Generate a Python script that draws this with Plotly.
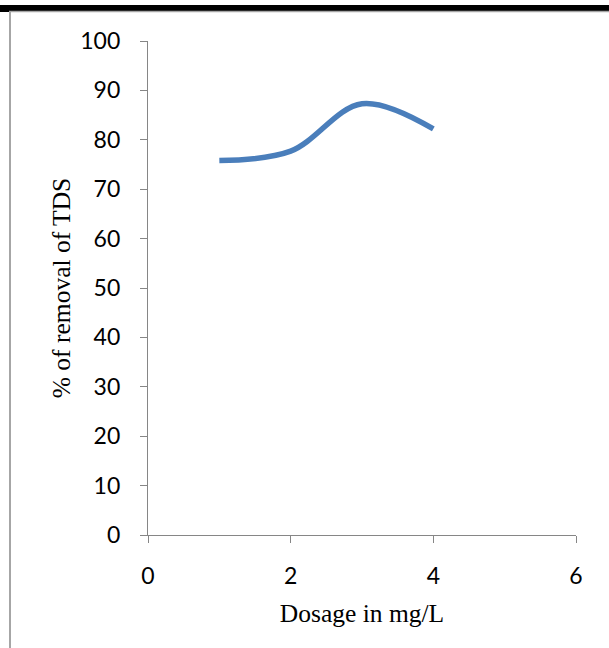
import plotly.graph_objects as go

dosage = [1, 2, 3, 4]
tds_removal = [75.8, 77.7, 87.3, 82.2]
x_ticks = [0, 2, 4, 6]
y_ticks = [0, 10, 20, 30, 40, 50, 60, 70, 80, 90, 100]

W, H = 609, 648
L, R, T, B = 148, 33, 41, 113
pw, ph = W - L - R, H - T - B

def px(x):
    return (x - L) / pw

def py(y):
    return (H - B - y) / ph

fig = go.Figure()
fig.add_trace(go.Scatter(
    x=dosage, y=tds_removal, mode="lines",
    line=dict(color="#4A7EBB", width=5.5, shape="spline", smoothing=1.0),
    showlegend=False, hoverinfo="skip",
))

axis_common = dict(
    showgrid=False, zeroline=False, showline=True, linecolor="#868686", linewidth=1.3,
    ticks="outside", ticklen=7, tickcolor="#868686", tickwidth=1.3,
    tickfont=dict(family="Lato, Carlito, sans-serif", size=23, color="#000000"),
)

fig.update_layout(
    width=W, height=H,
    margin=dict(l=L, r=R, t=T, b=B),
    paper_bgcolor="white", plot_bgcolor="white",
    xaxis=dict(range=[0, 6], tickvals=x_ticks, ticklabelstandoff=13, **axis_common,
               title=dict(text="Dosage in mg/L", standoff=16,
                          font=dict(family="Liberation Serif, Times New Roman, serif", size=25.5, color="#000"))),
    yaxis=dict(range=[0, 100], tickvals=y_ticks, ticklabelstandoff=15, **axis_common,
               title=dict(text="% of removal of TDS", standoff=2,
                          font=dict(family="Liberation Serif, Times New Roman, serif", size=25.5, color="#000"))),
    shapes=[
        dict(type="rect", xref="paper", yref="paper", x0=px(0), x1=px(W), y0=py(11), y1=py(5),
             fillcolor="black", line=dict(width=0), layer="above"),
        dict(type="rect", xref="paper", yref="paper", x0=px(0), x1=px(9), y0=py(12), y1=py(5),
             fillcolor="black", line=dict(width=0), layer="above"),
        dict(type="line", xref="paper", yref="paper", x0=px(9), x1=px(W), y0=py(11.5), y1=py(11.5),
             line=dict(color="#A6A6A6", width=1.5), layer="above"),
        dict(type="line", xref="paper", yref="paper", x0=px(10), x1=px(10), y0=py(11), y1=py(H),
             line=dict(color="#A6A6A6", width=2), layer="above"),
    ],
)

fig.write_html("out.html")
